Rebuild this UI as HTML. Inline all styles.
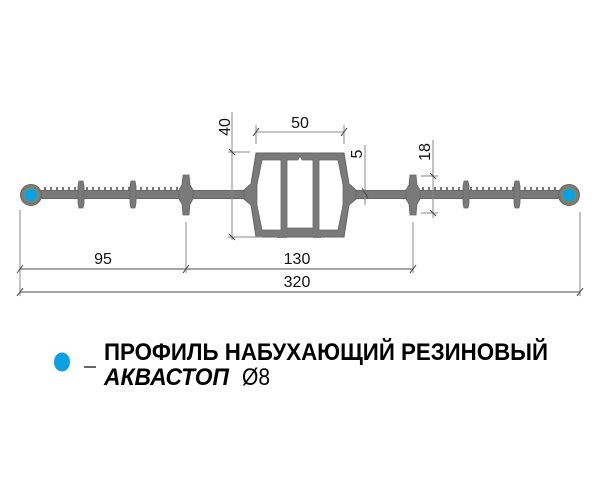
<!DOCTYPE html>
<html><head><meta charset="utf-8"><style>
html,body{margin:0;padding:0;background:#fff;width:610px;height:494px;overflow:hidden}
svg{display:block}
</style></head><body>
<svg width="610" height="494" viewBox="0 0 610 494" xmlns="http://www.w3.org/2000/svg" font-family="Liberation Sans, sans-serif">
<defs>
<pattern id="teeth" x="0" y="0" width="6" height="20" patternUnits="userSpaceOnUse">
<rect x="2" y="5" width="2" height="10" fill="#777"/>
</pattern>
</defs>
<rect x="42" y="187" width="200" height="15" fill="url(#teeth)"/>
<rect x="360" y="187" width="200" height="15" fill="url(#teeth)"/>
<rect x="190" y="186" width="58" height="18" fill="#fff"/>
<rect x="352" y="186" width="58" height="18" fill="#fff"/>
<rect x="30" y="190.5" width="540" height="8" fill="#7a7a7a" stroke="#666" stroke-width="1"/>
<g fill="#7a7a7a" stroke="#666" stroke-width="0.8">
<path d="M79 181 h4 l1 5 v17 l-1 5 h-4 l-1 -5 v-17z"/>
<path d="M131 181 h4 l1 5 v17 l-1 5 h-4 l-1 -5 v-17z"/>
<path d="M464 181 h4 l1 5 v17 l-1 5 h-4 l-1 -5 v-17z"/>
<path d="M515 181 h4 l1 5 v17 l-1 5 h-4 l-1 -5 v-17z"/>
<path d="M183 175 h6 l1 10 l3 5 v9 l-3 5 l-1 11 h-6 l-1 -11 l-3 -5 v-9 l3 -5z"/>
<path d="M410 175 h6 l1 10 l3 5 v9 l-3 5 l-1 11 h-6 l-1 -11 l-3 -5 v-9 l3 -5z"/>
</g>
<circle cx="31" cy="195" r="10.5" fill="#7a7a7a" stroke="#666"/>
<circle cx="31" cy="195" r="7" fill="#0aa0e6" stroke="#9a8a30" stroke-width="1"/>
<circle cx="569" cy="195" r="10.5" fill="#7a7a7a" stroke="#666"/>
<circle cx="569" cy="195" r="7" fill="#0aa0e6" stroke="#9a8a30" stroke-width="1"/>
<!-- box -->
<path d="M256 153 H344 L349 184 L356 190 V199 L349 205 L344 237 H256 L251 205 L244 199 V190 L251 184 Z" fill="#7a7a7a" stroke="#666"/>
<g fill="#fff" stroke="#666" stroke-width="0.8">
<path d="M262 160 H281 V230 H262 L257 205 V185 Z"/>
<path d="M287 160 H298 L300 156 L302 160 H313 V228 H287 Z"/>
<path d="M319 160 H338 L343 185 V205 L338 230 H319 Z"/>
</g>
<rect x="277" y="230" width="10" height="8" fill="#7a7a7a"/>
<rect x="313" y="230" width="8" height="8" fill="#7a7a7a"/>
<g stroke="#888" stroke-width="1" fill="none">
<line x1="20" y1="210" x2="20" y2="296"/>
<line x1="580" y1="212" x2="580" y2="296"/>
<line x1="186" y1="222" x2="186" y2="273"/>
<line x1="413" y1="222" x2="413" y2="273"/>
<line x1="20" y1="269" x2="413" y2="269" stroke-width="1.5"/>
<line x1="20" y1="292" x2="580" y2="292" stroke-width="1.5"/>
<line x1="256" y1="125" x2="256" y2="144"/>
<line x1="344" y1="125" x2="344" y2="144"/>
<line x1="256" y1="132" x2="344" y2="132"/>
<line x1="232" y1="112" x2="232" y2="240"/>
<line x1="228" y1="152" x2="250" y2="152"/>
<line x1="228" y1="237" x2="262" y2="237"/>
<line x1="365" y1="145" x2="365" y2="205"/>
<line x1="433" y1="140" x2="433" y2="218"/>
<line x1="421" y1="176" x2="438" y2="176"/>
<line x1="421" y1="213" x2="438" y2="213"/>
</g>
<g stroke="#444" stroke-width="1">
<line x1="17" y1="273" x2="23" y2="265"/><line x1="183" y1="273" x2="189" y2="265"/>
<line x1="410" y1="273" x2="416" y2="265"/><line x1="17" y1="296" x2="23" y2="288"/>
<line x1="577" y1="296" x2="583" y2="288"/><line x1="253" y1="136" x2="259" y2="128"/>
<line x1="341" y1="136" x2="347" y2="128"/><line x1="229" y1="149" x2="235" y2="155"/>
<line x1="229" y1="234" x2="235" y2="240"/><line x1="362" y1="188" x2="368" y2="198"/>
<line x1="430" y1="173" x2="436" y2="179"/><line x1="430" y1="210" x2="436" y2="216"/>
</g>
<g font-size="16" fill="#111" text-anchor="middle">
<text x="103" y="264">95</text>
<text x="297" y="264">130</text>
<text x="297" y="287">320</text>
<text x="300" y="128">50</text>
<text transform="translate(230,127) rotate(-90)">40</text>
<text transform="translate(362,154) rotate(-90)">5</text>
<text transform="translate(430,152) rotate(-90)">18</text>
</g>
<ellipse cx="62" cy="362" rx="8" ry="9.5" fill="#0aa0e6"/>
<line x1="84" y1="367" x2="96" y2="367" stroke="#333" stroke-width="1.5"/>
<text x="104" y="360" font-size="24" font-weight="bold" fill="#000" textLength="444" lengthAdjust="spacingAndGlyphs">ПРОФИЛЬ НАБУХАЮЩИЙ РЕЗИНОВЫЙ</text>
<text x="104" y="385" font-size="24" font-weight="bold" font-style="italic" fill="#000" textLength="125" lengthAdjust="spacingAndGlyphs">АКВАСТОП</text>
<text x="242" y="385" font-size="24" fill="#000" textLength="28" lengthAdjust="spacingAndGlyphs">Ø8</text>
</svg>
</body></html>
